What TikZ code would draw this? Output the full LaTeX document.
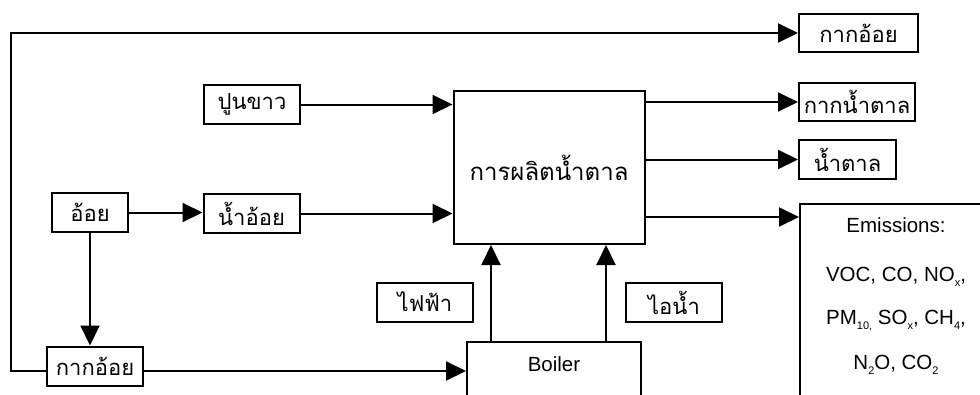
\documentclass[tikz,border=0pt]{standalone}
\usepackage{fontspec}
\setmainfont{Liberation Sans}
\newfontfamily\thaifont[Script=Thai]{Loma}
\usetikzlibrary{arrows.meta}
\newcommand{\lowidx}[1]{\raisebox{-5pt}{\fontsize{11}{11}\selectfont #1}}

\begin{document}
\begin{tikzpicture}[x=1pt, y=-1pt, line width=2pt,
    >={Triangle[length=20pt, width=19pt]},
    box/.style={draw, line width=2pt, inner sep=0pt,
      font=\thaifont\fontsize{22}{26}\selectfont},
    smallbox/.style={box, minimum width=96pt, minimum height=39pt}]
  \useasboundingbox (0,0) rectangle (980,394);
  \clip (0,0) rectangle (980,394);

  % --- inputs ---
  \node[smallbox, minimum width=76pt] (cane) at (90,212.5) {อ้อย};
  \node[smallbox] (juice) at (251.5,213.5) {น้ำอ้อย};
  \node[smallbox] (lime) at (252,104.5) {ปูนขาว};
  \node[smallbox] (bagasse) at (95,366) {กากอ้อย};

  % --- process ---
  \node[box, minimum width=191pt, minimum height=153pt,
    font=\thaifont\fontsize{24}{28}\selectfont] (main) at (549,167.5) {การผลิตน้ำตาล};
  \node[box, anchor=north, minimum width=174pt, inner ysep=15pt,
    text height=14pt, text depth=70pt, font=\fontsize{20.5}{24}\selectfont]
    (boiler) at (554,341) {Boiler};
  \node[smallbox] (elec) at (425,302) {ไฟฟ้า};
  \node[smallbox] (steam) at (674,302.5) {ไอน้ำ};

  % --- outputs ---
  \node[smallbox, minimum width=119pt, minimum height=38pt] (topbag) at (858.5,33) {กากอ้อย};
  \node[smallbox, minimum width=116pt, minimum height=38pt] (molasses) at (857,102) {กากน้ำตาล};
  \node[smallbox, minimum width=97pt] (sugar) at (847.5,159.5) {น้ำตาล};
  \node[box, anchor=north west, minimum width=192pt, minimum height=230pt]
    (emisbox) at (799,203) {};
  \node[align=center, anchor=north, inner sep=0pt,
    font=\fontsize{20.5}{24}\selectfont] (emis) at ([yshift=-14pt]emisbox.north)
    {Emissions:\\[25pt] VOC, CO, NO\lowidx{x},\\[19pt]
     PM\lowidx{10,} SO\lowidx{x}, CH\lowidx{4},\\[21pt]
     N\lowidx{2}O, CO\lowidx{2}};

  \coordinate (emisin) at ([yshift=-14pt]emisbox.north west);
  \coordinate (pwr) at ([xshift=25pt]boiler.north west);
  \coordinate (stm) at ([xshift=140pt]boiler.north west);

  % --- flows ---
  \draw[->] (lime.east) -- (lime.east -| main.west);
  \draw[->] (cane.east) -- (cane.east -| juice.west);
  \draw[->] (juice.east) -- (juice.east -| main.west);
  \draw[->] (cane.south) -- (cane.south |- bagasse.north);
  \draw[->] ([yshift=-5pt]bagasse.east) -- ([yshift=-5pt]bagasse.east -| boiler.west);
  \draw[->] ([yshift=-5pt]bagasse.west) -- ++(-35,0) |- (topbag.west);
  \draw[->] (pwr) -- (pwr |- main.south);
  \draw[->] (stm) -- (stm |- main.south);
  \draw[->] (main.east |- molasses.west) -- (molasses.west);
  \draw[->] (main.east |- sugar.west) -- (sugar.west);
  \draw[->] (main.east |- emisin) -- (emisin);
\end{tikzpicture}
\end{document}
